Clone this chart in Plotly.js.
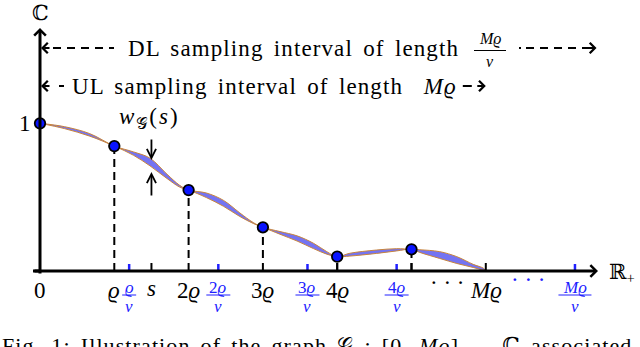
<!DOCTYPE html>
<html>
<head>
<meta charset="utf-8">
<script src="https://cdn.plot.ly/plotly-3.0.1.min.js"></script>
<style>
  html, body { margin: 0; padding: 0; background: #fff; }
  #graph { width: 640px; height: 347px; }
</style>
</head>
<body>
<div id="graph"></div>
<script>
// x measured in units of rho (M = 6, nu = 5/6), y = value of the graph
var sampleX = [0, 1, 2, 3, 4, 5, 6];
var sampleY = [1, 0.846, 0.548, 0.296, 0.097, 0.147, 0];

// the two edges of the graph band
var upperX = [0, 0.33, 0.67, 1, 1.26, 1.48, 1.71, 1.88, 2, 2.24, 2.47, 2.69, 2.87, 3, 3.23, 3.46, 3.68, 3.86, 4, 4.17, 4.53, 4.8, 5, 5.11, 5.38, 5.61, 5.83, 5.97, 6];
var upperY = [1, 0.977, 0.93, 0.846, 0.806, 0.764, 0.655, 0.58, 0.548, 0.528, 0.478, 0.393, 0.328, 0.296, 0.267, 0.238, 0.188, 0.131, 0.097, 0.12, 0.142, 0.151, 0.147, 0.144, 0.131, 0.097, 0.045, 0.018, 0];
var lowerX = [0, 0.33, 0.67, 1, 1.26, 1.48, 1.71, 1.88, 2, 2.24, 2.47, 2.69, 2.87, 3, 3.23, 3.46, 3.68, 3.86, 4, 4.17, 4.53, 4.8, 5, 5.11, 5.38, 5.61, 5.83, 6];
var lowerY = [1, 0.964, 0.913, 0.846, 0.783, 0.712, 0.626, 0.568, 0.548, 0.497, 0.438, 0.369, 0.322, 0.296, 0.249, 0.203, 0.152, 0.114, 0.097, 0.101, 0.119, 0.136, 0.147, 0.126, 0.085, 0.051, 0.024, 0];

// axis labels
var blackTickX = [0, 1, 2, 3, 4, 6];
var blackTickText = ['0', '<i>ϱ</i>', '2<i>ϱ</i>', '3<i>ϱ</i>', '4<i>ϱ</i>', '<i>Mϱ</i>'];
var plainTickX = [1.5, 4, 5, 6];
var sX = 1.5;
var blueTickX = [1.2, 2.4, 3.6, 4.8, 7.2];
var blueTickNum = ['ϱ', '2ϱ', '3ϱ', '4ϱ', 'Mϱ'];
var dashedX = [1, 2, 3, 4, 5];

var DL_END = 7.49;   // end of the DL interval arrow
var UL_END = 6;      // end of the UL interval arrow (M rho)

// pixel -> data helpers (74.3 px per rho, 147.7 px per unit)
var PX = 74.3, PY = 147.7;
function dx(p) { return p / PX; }
function dy(p) { return p / PY; }
function italic(s) { return s.replace(/([Mϱ]+)/g, '<i>$1</i>'); }
function wide(s) { return '<span style="letter-spacing:1.1px;word-spacing:3.5px">' + s + '</span>'; }
function numWidth(s) {
    var w = 0;
    for (var i = 0; i < s.length; i++) {
        var c = s[i];
        if (c == 'M') w += 19; else if (c == 'ϱ') w += 12; else w += 10;
    }
    return w;
}

var blue = '#2020ff';

var traces = [
    {x: lowerX, y: lowerY, mode: 'lines', line: {shape: 'spline', color: '#c8843c', width: 1}, hoverinfo: 'skip'},
    {x: upperX, y: upperY, mode: 'lines', line: {shape: 'spline', color: '#c8843c', width: 1},
     fill: 'tonexty', fillcolor: '#7474f2', hoverinfo: 'skip'},
    // no dot at M rho itself
    {x: sampleX.slice(0, 6), y: sampleY.slice(0, 6), mode: 'markers',
     marker: {size: 10.5, color: '#0a14ff', line: {color: '#000', width: 1.8}}}
];

var shapes = [];
var annotations = [];

// axis line stub left of the origin
shapes.push({type: 'line', xref: 'x', yref: 'y', x0: -dx(7), x1: 0, y0: 0, y1: 0, line: {color: '#000', width: 3}});

// dashed verticals from the samples
dashedX.forEach(function(x) {
    var i = sampleX.indexOf(x);
    shapes.push({type: 'line', xref: 'x', yref: 'y', x0: x, x1: x, y0: 0, y1: sampleY[i],
        line: {color: '#000', width: 2, dash: '8px,5px'}, layer: 'below'});
});
// black ticks
plainTickX.forEach(function(x) {
    shapes.push({type: 'line', xref: 'x', yref: 'y', x0: x, x1: x, y0: 0, y1: dy(8),
        line: {color: '#000', width: 2}});
});
// blue ticks
blueTickX.forEach(function(x) {
    shapes.push({type: 'line', xref: 'x', yref: 'y', x0: x, x1: x, y0: 0, y1: dy(7),
        line: {color: blue, width: 2.5}});
});

// axes with arrow heads
annotations.push({x: dx(558), y: 0, ax: -dx(7), ay: 0, xref: 'x', yref: 'y', axref: 'x', ayref: 'y',
    text: '', showarrow: true, arrowhead: 4, arrowsize: 0.75, arrowwidth: 3, arrowcolor: '#000', standoff: 0});
annotations.push({x: 0, y: dy(243), ax: 0, ay: -dy(4), xref: 'x', yref: 'y', axref: 'x', ayref: 'y',
    text: '', showarrow: true, arrowhead: 4, arrowsize: 0.75, arrowwidth: 3, arrowcolor: '#000', standoff: 0});

// axis names and the value 1
annotations.push({x: 0, y: dy(258), xref: 'x', yref: 'y', text: 'ℂ', showarrow: false, font: {size: 21}});
annotations.push({x: dx(567), y: -dy(2), xref: 'x', yref: 'y', xanchor: 'left', text: 'ℝ<sub>+</sub>', showarrow: false, font: {size: 21}});
annotations.push({x: -dx(7), y: 1, xref: 'x', yref: 'y', xanchor: 'right', text: '1', showarrow: false});

// black tick labels
blackTickX.forEach(function(x, i) {
    annotations.push({x: x, y: -dy(19), xref: 'x', yref: 'y', text: blackTickText[i], showarrow: false});
});
annotations.push({x: sX, y: -dy(17), xref: 'x', yref: 'y', text: '<i>s</i>', showarrow: false});
annotations.push({x: dx(407), y: -dy(11), xref: 'x', yref: 'y', text: '· · ·', showarrow: false});
annotations.push({x: dx(488), y: -dy(8), xref: 'x', yref: 'y', text: '· · ·', showarrow: false, font: {color: blue}});

// blue fraction labels rho/nu
blueTickX.forEach(function(x, i) {
    var half = dx(numWidth(blueTickNum[i]) / 2 + 1);
    annotations.push({x: x, y: -dy(16), xref: 'x', yref: 'y', text: italic(blueTickNum[i]), showarrow: false,
        font: {size: 17, color: blue}});
    annotations.push({x: x, y: -dy(35), xref: 'x', yref: 'y', text: '<i>ν</i>', showarrow: false,
        font: {size: 17, color: blue}});
    shapes.push({type: 'line', xref: 'x', yref: 'y', x0: x - half, x1: x + half, y0: -dy(24), y1: -dy(24),
        line: {color: blue, width: 1}});
});

// width marker at s
annotations.push({x: sX, y: dy(111), ax: sX, ay: dy(133), xref: 'x', yref: 'y', axref: 'x', ayref: 'y',
    text: '', showarrow: true, arrowhead: 5, arrowsize: 1, arrowwidth: 1.8, arrowcolor: '#000', standoff: 0});
annotations.push({x: sX, y: dy(99), ax: sX, ay: dy(74), xref: 'x', yref: 'y', axref: 'x', ayref: 'y',
    text: '', showarrow: true, arrowhead: 5, arrowsize: 1, arrowwidth: 1.8, arrowcolor: '#000', standoff: 0});
annotations.push({x: sX - dx(2), y: dy(153), xref: 'x', yref: 'y',
    text: '<span style="letter-spacing:2px"><i>w</i><sub>𝒢</sub>(<i>s</i>)</span>', showarrow: false});

// sampling intervals
var yDL = dy(223), yUL = dy(185);
annotations.push({x: dx(1), y: yDL, ax: dx(11), ay: yDL, xref: 'x', yref: 'y', axref: 'x', ayref: 'y',
    text: '', showarrow: true, arrowhead: 4, arrowsize: 1, arrowwidth: 2, arrowcolor: '#000', standoff: 0});
shapes.push({type: 'line', xref: 'x', yref: 'y', x0: dx(13), x1: dx(74), y0: yDL, y1: yDL,
    line: {color: '#000', width: 2, dash: '8px,6px'}});
annotations.push({x: dx(86), y: yDL, xref: 'x', yref: 'y', xanchor: 'left',
    text: wide('DL sampling interval of length'), showarrow: false});
annotations.push({x: dx(450), y: yDL + dy(9), xref: 'x', yref: 'y', text: '<i>Mϱ</i>', showarrow: false, font: {size: 16}});
annotations.push({x: dx(450), y: yDL - dy(13), xref: 'x', yref: 'y', text: '<i>ν</i>', showarrow: false, font: {size: 16}});
shapes.push({type: 'line', xref: 'x', yref: 'y', x0: dx(434), x1: dx(466), y0: yDL - dy(2.5), y1: yDL - dy(2.5),
    line: {color: '#000', width: 1}});
shapes.push({type: 'line', xref: 'x', yref: 'y', x0: dx(479), x1: DL_END - dx(7), y0: yDL, y1: yDL,
    line: {color: '#000', width: 2, dash: '2px,5px,8px,6px,8px,6px,8px,6px,8px,6px,8px,6px'}});
annotations.push({x: DL_END, y: yDL, ax: DL_END - dx(10), ay: yDL, xref: 'x', yref: 'y', axref: 'x', ayref: 'y',
    text: '', showarrow: true, arrowhead: 4, arrowsize: 1, arrowwidth: 2, arrowcolor: '#000', standoff: 0});

annotations.push({x: dx(1), y: yUL, ax: dx(11), ay: yUL, xref: 'x', yref: 'y', axref: 'x', ayref: 'y',
    text: '', showarrow: true, arrowhead: 4, arrowsize: 1, arrowwidth: 2, arrowcolor: '#000', standoff: 0});
shapes.push({type: 'line', xref: 'x', yref: 'y', x0: dx(19), x1: dx(24), y0: yUL, y1: yUL,
    line: {color: '#000', width: 2}});
annotations.push({x: dx(30), y: yUL, xref: 'x', yref: 'y', xanchor: 'left',
    text: wide('UL sampling interval of length  <i>Mϱ</i>'), showarrow: false});
shapes.push({type: 'line', xref: 'x', yref: 'y', x0: UL_END - dx(23), x1: UL_END - dx(14), y0: yUL, y1: yUL,
    line: {color: '#000', width: 2}});
annotations.push({x: UL_END, y: yUL, ax: UL_END - dx(10), ay: yUL, xref: 'x', yref: 'y', axref: 'x', ayref: 'y',
    text: '', showarrow: true, arrowhead: 4, arrowsize: 1, arrowwidth: 2, arrowcolor: '#000', standoff: 0});

// caption, cut by the bottom edge
annotations.push({x: 0, y: 1 - 331 / 347, xref: 'paper', yref: 'paper', xanchor: 'left', yanchor: 'top',
    text: wide('Fig. 1: Illustration of the graph 𝒢 : [0, <i>Mϱ</i>] → ℂ associated to'), showarrow: false, font: {size: 22}});

var layout = {
    width: 640,
    height: 347,
    margin: {l: 0, r: 0, t: 0, b: 0, pad: 0},
    paper_bgcolor: '#fff',
    plot_bgcolor: '#fff',
    showlegend: false,
    font: {family: 'Liberation Serif, DejaVu Serif, serif', size: 23, color: '#000'},
    xaxis: {range: [-40 / PX, 600 / PX], visible: false, fixedrange: true},
    yaxis: {range: [-76 / PY, 271 / PY], visible: false, fixedrange: true},
    shapes: shapes,
    annotations: annotations
};

Plotly.newPlot('graph', traces, layout, {staticPlot: true});
</script>
</body>
</html>
